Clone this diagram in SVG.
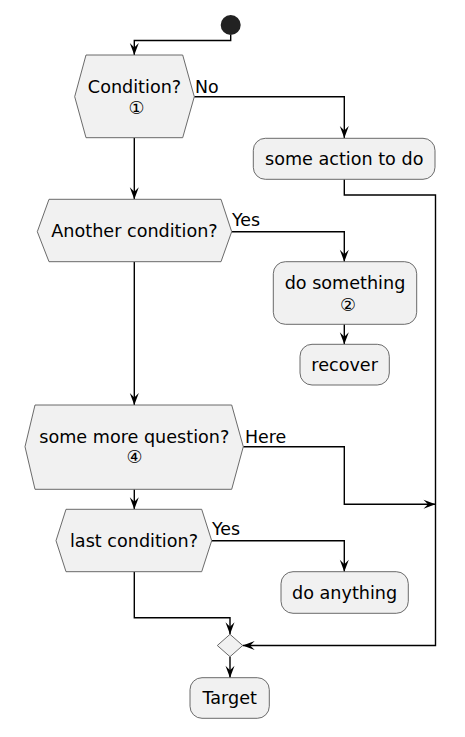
<svg xmlns="http://www.w3.org/2000/svg" width="465" height="737" viewBox="0 0 465 737">
<style>
.n{fill:#F1F1F1;stroke:#5a5a5a;stroke-width:0.9}
.t{font-family:"DejaVu Sans",sans-serif;font-size:17.6px;fill:#000;text-anchor:middle}
.l{font-family:"DejaVu Sans",sans-serif;font-size:17.4px;fill:#000}
.c{fill:none;stroke:#000;stroke-width:1.4}
</style>
<defs>
<marker id="a" viewBox="-13 -6 14 12" refX="0" refY="0" markerWidth="14" markerHeight="12" markerUnits="userSpaceOnUse" orient="auto">
<path d="M0,0 L-12,-4.5 L-7.5,0 L-12,4.5 Z" fill="#000"/>
</marker>
</defs>
<g id="connectors">
<path class="c" d="M230.7,35 V40.5 H134.3 V55" marker-end="url(#a)"/>
<path class="c" d="M194.3,96.7 H344.3 V138" marker-end="url(#a)"/>
<path class="c" d="M344.3,179.3 V195 H435.5 V645.5 H242.7" marker-end="url(#a)"/>
<path class="c" d="M134.3,137.7 V199.3" marker-end="url(#a)"/>
<path class="c" d="M231.7,231.7 H344.3 V261.7" marker-end="url(#a)"/>
<path class="c" d="M344.3,324.3 V344.3" marker-end="url(#a)"/>
<path class="c" d="M134.3,261.7 V405" marker-end="url(#a)"/>
<path class="c" d="M243.3,446.7 H344.3 V504.3 H435.5" marker-end="url(#a)"/>
<path class="c" d="M134.3,489.3 V509.3" marker-end="url(#a)"/>
<path class="c" d="M211.7,540.7 H344.3 V571.7" marker-end="url(#a)"/>
<path class="c" d="M134.3,571.7 V617.7 H230 V634.3" marker-end="url(#a)"/>
<path class="c" d="M230,656.7 V677.7" marker-end="url(#a)"/>
<text class="l" x="195" y="92.7">No</text>
<text class="l" x="232" y="226">Yes</text>
<text class="l" x="245" y="442.7">Here</text>
<text class="l" x="212" y="535">Yes</text>
</g>
<g id="start"><circle cx="230.7" cy="25" r="10" fill="#222"/></g>
<g id="cond1">
<polygon class="n" points="86,55 182.7,55 194.3,96.7 182.7,137.7 86,137.7 74.7,96.7"/>
<text class="t" x="134.5" y="93">Condition?</text>
<text class="t" x="136.5" y="114" font-size="13">①</text>
</g>
<g id="action1">
<rect class="n" x="253.3" y="138.3" width="181.7" height="41" rx="12"/>
<text class="t" x="344.2" y="165">some action to do</text>
</g>
<g id="cond2">
<polygon class="n" points="49,199.3 221,199.3 231.7,231.7 221,261.7 49,261.7 37.3,231.7"/>
<text class="t" x="134.5" y="236.7">Another condition?</text>
</g>
<g id="dosomething">
<rect class="n" x="273.3" y="261.7" width="143.4" height="62.6" rx="12"/>
<text class="t" x="345" y="289.3">do something</text>
<text class="t" x="348" y="310.5" font-size="13">②</text>
</g>
<g id="recover">
<rect class="n" x="300" y="344.3" width="89.3" height="40.7" rx="12"/>
<text class="t" x="344.6" y="370.7">recover</text>
</g>
<g id="cond3">
<polygon class="n" points="35,405 231.7,405 243.3,446.7 231.7,489.3 35,489.3 25,446.7"/>
<text class="t" x="134.3" y="442.7">some more question?</text>
<text class="t" x="134.3" y="462.5" font-size="13">④</text>
</g>
<g id="cond4">
<polygon class="n" points="66,509.3 201.7,509.3 211.7,540.7 201.7,571.7 66,571.7 56,540.7"/>
<text class="t" x="134" y="547.3">last condition?</text>
</g>
<g id="doanything">
<rect class="n" x="281" y="571.7" width="127.3" height="41.6" rx="12"/>
<text class="t" x="344.6" y="599.3">do anything</text>
</g>
<g id="merge">
<polygon class="n" points="230,634.3 242.7,645.5 230,656.7 217.3,645.5"/>
</g>
<g id="target">
<rect class="n" x="190" y="677.7" width="79.3" height="40.6" rx="12"/>
<text class="t" x="229.7" y="704">Target</text>
</g>
</svg>
